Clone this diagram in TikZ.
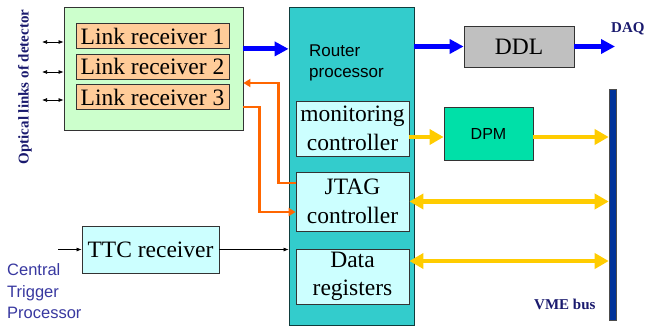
\documentclass[tikz,border=0pt]{standalone}
\usepackage{fontspec}
\setmainfont{Liberation Serif}
\setsansfont{Liberation Sans}
\usetikzlibrary{arrows.meta,calc}
\definecolor{greenfill}{HTML}{CCFFCC}
\definecolor{peach}{HTML}{FFCC99}
\definecolor{teal2}{HTML}{33CCCC}
\definecolor{lcyan}{HTML}{CCFFFF}
\definecolor{ddlgray}{HTML}{C0C0C0}
\definecolor{dpmgreen}{HTML}{00E0A8}
\definecolor{busblue}{HTML}{003399}
\definecolor{navy2}{HTML}{1A1A6E}
\definecolor{ctpblue}{HTML}{3838A0}
\definecolor{orange2}{HTML}{FF6600}
\definecolor{yel}{HTML}{FFCC00}
\definecolor{blu}{HTML}{0000FF}
\begin{document}
\begin{tikzpicture}[x=1pt,y=-1pt,
  box/.style={draw=black!80, line width=0.8pt, inner sep=0pt, align=center,
    font=\fontsize{23.5}{28.5}\selectfont},
  bluearrow/.style={blu, line width=5pt, -{Triangle[length=14pt,width=14pt]}},
  yelarrow/.style={yel, line width=4.5pt, -{Triangle[length=14pt,width=15pt]}},
  yeldbl/.style={yel, line width=4.5pt, {Triangle[length=14pt,width=15pt]}-{Triangle[length=14pt,width=15pt]}},
  orarrow/.style={orange2, line width=2.8pt, -{Triangle[length=7pt,width=8pt]}},
  thinarrow/.style={black, line width=0.7pt, -{Latex[length=5pt,width=4pt]}},
  thindbl/.style={black, line width=0.7pt, {Latex[length=5pt,width=4pt]}-{Latex[length=5pt,width=4pt]}},
  navylabel/.style={navy2, font=\bfseries\fontsize{15}{18}\selectfont, inner sep=0pt},
]
\useasboundingbox (0,0) rectangle (645,327);

% Green receiver block
\node[box, fill=greenfill, minimum width=179pt, minimum height=123pt] (green) at (153.5,68.5) {};
\node[box, fill=peach, minimum width=153pt, minimum height=25pt] (lr1) at (152.5,36) {Link receiver 1};
\node[box, fill=peach, minimum width=153pt, minimum height=25pt] (lr2) at (152.5,66.5) {Link receiver 2};
\node[box, fill=peach, minimum width=153pt, minimum height=25pt] (lr3) at (152.5,97) {Link receiver 3};

% Router
\node[box, draw=black!70!teal2, fill=teal2, minimum width=125pt, minimum height=318pt] (router) at (351.5,166) {};
\node[anchor=west, align=left, inner sep=0pt, font=\sffamily\fontsize{17}{21}\selectfont] (rtext) at (309,62.5) {Router\\processor};
\node[box, fill=lcyan, minimum width=113pt, minimum height=55pt] (mon) at (352.5,128.5) {monitoring\\controller};
\node[box, fill=lcyan, minimum width=113pt, minimum height=59pt] (jtag) at (352.5,201.5) {JTAG\\controller};
\node[box, fill=lcyan, minimum width=113pt, minimum height=55pt] (data) at (352.5,276.5) {Data\\registers};

% Right side
\node[box, fill=ddlgray, minimum width=110pt, minimum height=41pt] (ddl) at (519,46.5) {DDL};
\node[box, fill=dpmgreen, minimum width=89pt, minimum height=53pt, font=\sffamily\fontsize{16}{19}\selectfont] (dpm) at (488.5,133.5) {DPM};
\node[draw=black!70, fill=busblue, line width=0.6pt, minimum width=7pt, minimum height=231pt, inner sep=0pt] (bus) at (612.5,204.5) {};

% TTC
\node[box, fill=lcyan, minimum width=137pt, minimum height=47pt] (ttc) at (150.5,249.5) {TTC receiver};

% Labels
\node[navylabel, anchor=west] (daq) at (611,29) {DAQ};
\node[navylabel, anchor=west] (vme) at (534,304) {VME bus};
\node[navylabel, rotate=90] (optical) at (25,87) {Optical links of detector};
\node[anchor=west, align=left, inner sep=0pt, ctpblue, font=\sffamily\fontsize{16.5}{21.5}\selectfont] (ctp) at (7,291.5) {Central\\Trigger\\Processor};

% Coordinates for free ends
\coordinate (daqend) at (615,46.5);
\coordinate (in1) at (42,42);
\coordinate (in2) at (42,72);
\coordinate (in3) at (42,100);
\coordinate (ctpin) at (58,249.5);

% Blue arrows
\draw[bluearrow] (lr1.south -| green.east) -- (lr1.south -| router.west);
\draw[bluearrow] (ddl.west -| router.east) -- (ddl.west);
\draw[bluearrow] (ddl.east) -- (daqend);

% Yellow arrows
\draw[yelarrow] ([yshift=-3.5pt]dpm.west -| mon.east) -- ([yshift=-3.5pt]dpm.west);
\draw[yelarrow] ([yshift=-3.5pt]dpm.east) -- ([yshift=-3.5pt]dpm.east -| bus.west);
\draw[yeldbl] (jtag.east) -- (jtag.east -| bus.west);
\draw[yeldbl] ([yshift=15.5pt]data.east) -- ([yshift=15.5pt]data.east -| bus.west);

% Orange lines
\draw[orarrow] ([yshift=18.5pt]jtag.west) -| ([xshift=35pt,yshift=-14.5pt]green.east) -- ([yshift=-14.5pt]green.east);
\draw[orarrow] ([yshift=-38.5pt]green.east) -| ([xshift=-36pt,yshift=-10.5pt]jtag.west) -- ([yshift=-10.5pt]jtag.west);

% Thin arrows
\draw[thindbl] (in1) -- (in1 -| green.west);
\draw[thindbl] (in2) -- (in2 -| green.west);
\draw[thindbl] (in3) -- (in3 -| green.west);
\draw[thinarrow] (ctpin) -- (ttc.west);
\draw[thinarrow] (ttc.east) -- (ttc.east -| router.west);
\end{tikzpicture}
\end{document}
